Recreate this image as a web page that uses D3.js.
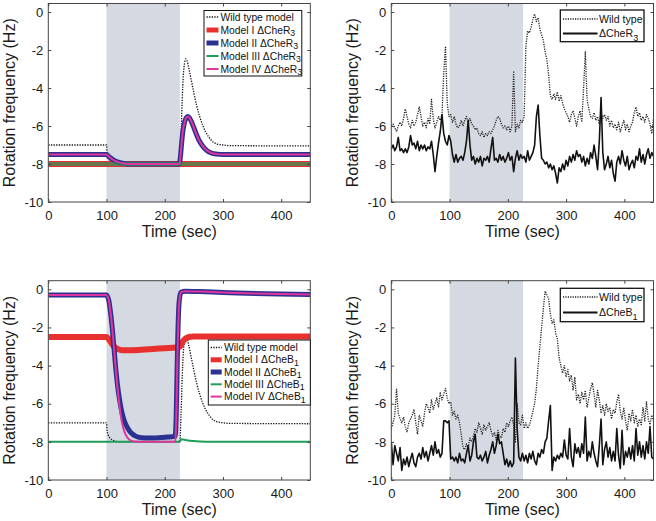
<!DOCTYPE html>
<html><head><meta charset="utf-8">
<script src="https://cdn.jsdelivr.net/npm/d3@7"></script>
<style>
body{margin:0;background:#fff}
svg{display:block}
text{font-family:"Liberation Sans",Arial,Helvetica,sans-serif}
</style>
</head><body>
<svg id="chart" width="656" height="521"></svg>
<script>
// ---------------- DATA ----------------
const timeTicks = [0, 100, 200, 300, 400];
const freqTicks = [-10, -8, -6, -4, -2, 0];
const timeDomain = [0, 450];
const freqDomain = [-10, 0.45];
const stimulusWindow = [100, 226];

// Model curves (left panels)
const wtModelT = [0,100,101,103,106,110,115,120,226,228,230,232,234,236,238,241,245,250,255,260,265,270,275,280,285,290,300,310,450];
const wtModelV = [-7.0,-7.0,-7.4,-7.65,-7.8,-7.9,-7.96,-8.0,-8.0,-6.5,-4.6,-3.3,-2.7,-2.47,-2.55,-2.9,-3.5,-4.25,-4.95,-5.5,-5.95,-6.3,-6.55,-6.75,-6.88,-6.95,-7.0,-7.03,-7.05];

const r3ModelIT = [0, 450];
const r3ModelIV = [-8.0, -8.0];
const r3ModelIIT = [0,100,103,106,110,115,120,125,130,140,225,227,229,231,234,237,240,243,247,252,258,265,272,280,290,300,450];
const r3ModelIIV = [-7.5,-7.5,-7.58,-7.66,-7.75,-7.84,-7.9,-7.94,-7.97,-8.0,-8.0,-7.6,-6.9,-6.3,-5.8,-5.56,-5.5,-5.6,-5.85,-6.25,-6.7,-7.05,-7.28,-7.42,-7.48,-7.5,-7.5];
const r3ModelIIIT = [0, 450];
const r3ModelIIIV = [-8.0, -8.0];
const r3ModelIVT = [0,100,103,106,110,115,120,125,130,140,225,227,229,231,234,237,240,243,247,252,258,265,272,280,290,300,450];
const r3ModelIVV = [-7.5,-7.5,-7.58,-7.66,-7.75,-7.84,-7.9,-7.94,-7.97,-8.0,-8.0,-7.6,-6.9,-6.3,-5.8,-5.56,-5.5,-5.6,-5.85,-6.25,-6.7,-7.05,-7.28,-7.42,-7.48,-7.5,-7.5];

const b1ModelIT = [0,100,104,108,112,116,120,125,130,140,160,180,200,220,226,229,232,236,240,245,250,300,450];
const b1ModelIV = [-2.5,-2.5,-2.62,-2.8,-2.97,-3.08,-3.15,-3.19,-3.2,-3.2,-3.17,-3.13,-3.09,-3.05,-3.0,-2.85,-2.7,-2.58,-2.52,-2.49,-2.48,-2.47,-2.47];
const b1ModelIIT = [0,100,102,104,106,108,110,112,114,116,118,120,123,126,130,135,140,145,150,160,175,190,205,215,218,219.5,221,222.5,224,226,228,235,260,300,450];
const b1ModelIIV = [-0.3,-0.3,-0.4,-0.6,-1.0,-1.5,-2.1,-2.8,-3.5,-4.2,-4.8,-5.3,-5.9,-6.4,-6.85,-7.2,-7.45,-7.6,-7.7,-7.78,-7.8,-7.79,-7.75,-7.72,-7.7,-6.8,-4.5,-2.4,-1.0,-0.35,-0.15,-0.1,-0.12,-0.17,-0.27];
const b1ModelIIIT = [0,100,226,228,232,240,250,260,280,450];
const b1ModelIIIV = [-8.0,-8.0,-8.0,-7.86,-7.88,-7.93,-7.96,-7.98,-8.0,-8.0];
const b1ModelIVT = [0,100,102,104,106,108,110,112,114,116,118,120,123,126,130,135,140,145,150,160,200,218,219.5,221,222.5,224,226,228,235,260,300,450];
const b1ModelIVV = [-0.3,-0.3,-0.4,-0.6,-1.0,-1.5,-2.1,-2.8,-3.5,-4.2,-4.9,-5.5,-6.3,-6.9,-7.4,-7.75,-7.9,-7.96,-7.98,-8.0,-8.0,-8.0,-7.1,-4.8,-2.6,-1.1,-0.4,-0.15,-0.1,-0.12,-0.17,-0.27];

// Experimental data (right panels), sampled every 3 s from 0 to 450 s
const dataTimes = d3.range(0, 451, 3);
const wildTypeR3 = [
 -6.0,-5.9,-6.1,-6.3,-6.0,-5.8,-6.0,-5.6,-5.1,-5.5,
 -5.9,-6.1,-5.7,-6.0,-5.8,-5.4,-5.0,-5.5,-6.0,-5.8,
 -6.1,-5.6,-5.9,-4.6,-5.6,-6.1,-5.8,-5.5,-5.7,-5.4,
 -3.2,-1.8,-4.8,-5.5,-5.4,-5.8,-5.5,-5.9,-6.1,-6.0,
 -5.7,-6.0,-5.7,-5.5,-5.8,-5.6,-5.9,-6.0,-6.2,-6.1,
 -6.4,-6.5,-6.3,-6.6,-6.4,-6.5,-6.3,-6.4,-6.2,-6.0,
 -5.7,-5.5,-5.6,-5.9,-6.1,-6.0,-6.2,-6.0,-6.3,-6.0,
 -3.1,-6.3,-5.9,-6.1,-5.7,-5.8,-5.5,-1.8,-1.0,-1.1,
 -0.8,-0.4,-0.1,-0.5,-0.3,-0.9,-1.2,-1.5,-2.1,-2.5,
 -3.3,-4.4,-4.6,-4.3,-4.6,-4.2,-4.7,-4.4,-4.8,-5.1,
 -5.3,-5.5,-5.8,-5.4,-5.2,-5.6,-6.0,-5.5,-5.2,-5.8,
 -4.0,-2.1,-4.6,-5.1,-5.5,-5.6,-5.3,-5.7,-5.5,-5.9,
 -5.3,-5.6,-5.4,-5.7,-5.5,-6.0,-5.7,-6.1,-5.9,-6.2,
 -5.8,-6.3,-6.0,-5.7,-6.2,-5.9,-6.3,-6.0,-5.8,-5.3,
 -5.0,-5.5,-5.3,-5.7,-5.5,-5.8,-5.4,-5.6,-5.9,-6.4,
 -5.6];
const deltaCheR3 = [
 -7.2,-7.0,-7.3,-7.1,-6.6,-7.3,-7.2,-7.4,-7.2,-7.4,
 -7.1,-6.5,-7.0,-6.9,-7.2,-6.8,-7.3,-7.0,-7.2,-7.0,
 -7.3,-7.1,-7.2,-6.8,-7.5,-8.4,-7.6,-6.9,-6.3,-5.4,
 -6.4,-6.8,-7.0,-6.5,-6.8,-7.5,-7.9,-7.5,-7.9,-7.7,
 -7.6,-7.8,-7.4,-6.8,-5.7,-7.0,-7.8,-7.6,-8.0,-7.7,
 -7.9,-7.6,-8.1,-7.7,-7.8,-7.6,-7.9,-7.2,-6.6,-7.8,
 -7.7,-7.9,-7.5,-7.8,-7.6,-7.9,-7.7,-7.4,-7.8,-7.6,
 -8.4,-7.7,-7.3,-7.8,-7.5,-7.7,-7.6,-7.9,-7.3,-7.8,
 -7.6,-7.4,-7.0,-5.5,-4.9,-6.5,-7.7,-7.8,-8.0,-7.9,
 -8.2,-8.0,-8.3,-8.1,-8.5,-9.0,-8.2,-8.4,-8.0,-8.3,
 -7.8,-8.1,-7.6,-7.9,-7.5,-7.8,-7.3,-7.6,-7.5,-7.9,
 -7.6,-8.1,-7.7,-8.0,-7.4,-7.7,-7.0,-7.6,-8.3,-6.8,
 -4.5,-7.4,-8.3,-8.0,-7.6,-8.2,-7.8,-8.5,-8.9,-7.9,
 -7.6,-8.0,-7.3,-7.8,-8.1,-7.6,-8.3,-8.0,-7.8,-8.2,
 -7.6,-7.8,-7.2,-7.9,-7.5,-8.0,-7.5,-7.2,-7.7,-7.4,
 -7.6];
const wildTypeB1 = [
 -7.3,-7.0,-6.6,-5.2,-6.5,-6.8,-7.0,-6.7,-7.2,-7.5,
 -7.0,-6.8,-6.6,-6.3,-7.0,-7.6,-6.6,-6.9,-7.2,-6.5,
 -6.0,-6.2,-6.5,-5.8,-6.3,-6.0,-5.7,-6.2,-5.4,-5.8,
 -5.5,-5.2,-5.7,-6.0,-5.9,-6.6,-6.4,-6.8,-6.6,-7.0,
 -7.6,-8.3,-8.4,-8.1,-8.3,-7.8,-8.0,-7.7,-7.3,-7.5,
 -7.0,-7.3,-7.6,-7.1,-7.4,-7.2,-7.0,-7.4,-7.7,-7.5,
 -7.9,-7.4,-7.7,-7.8,-7.3,-7.5,-7.0,-7.2,-6.9,-6.7,
 -7.1,-8.0,-6.0,-7.0,-7.1,-6.6,-7.3,-7.0,-7.3,-7.1,
 -6.8,-6.4,-6.0,-5.2,-4.0,-3.0,-2.0,-1.0,-0.1,-0.3,
 -0.5,-1.3,-1.8,-1.6,-2.3,-2.6,-3.6,-4.0,-4.4,-4.0,
 -4.6,-4.2,-4.8,-4.5,-5.3,-4.6,-5.8,-5.5,-6.0,-5.4,
 -5.8,-5.3,-6.2,-5.7,-5.2,-4.9,-5.5,-6.2,-5.3,-5.8,
 -6.5,-6.1,-6.6,-6.0,-6.4,-6.2,-6.8,-6.3,-6.5,-5.9,
 -5.5,-6.4,-6.8,-6.2,-6.9,-7.4,-6.5,-6.9,-6.3,-7.0,
 -6.6,-7.2,-6.8,-7.1,-6.2,-6.9,-5.9,-6.8,-7.1,-6.6,
 -6.9];
const deltaCheB1 = [
 -8.0,-9.2,-8.2,-8.6,-9.0,-8.3,-9.5,-8.9,-9.2,-8.8,
 -9.3,-8.9,-8.6,-9.1,-9.3,-8.8,-8.6,-8.9,-8.3,-8.8,
 -8.5,-9.0,-8.6,-8.2,-8.7,-8.0,-8.6,-8.4,-8.8,-8.6,
 -6.9,-6.9,-7.0,-6.9,-8.9,-8.8,-9.0,-8.8,-9.1,-8.6,
 -9.0,-8.9,-9.1,-8.6,-8.2,-9.0,-8.7,-8.0,-7.6,-8.8,
 -8.9,-8.7,-9.0,-8.8,-8.5,-9.1,-8.7,-8.4,-8.0,-8.6,
 -8.2,-7.6,-8.1,-8.0,-8.6,-9.2,-8.9,-9.3,-9.0,-9.3,
 -9.1,-3.6,-7.3,-8.8,-9.0,-8.6,-9.0,-8.7,-9.1,-8.6,
 -8.9,-8.5,-9.0,-9.2,-8.6,-8.8,-8.4,-8.6,-8.0,-7.8,
 -6.9,-6.1,-9.5,-8.8,-9.0,-8.7,-8.9,-8.6,-8.8,-7.9,
 -8.7,-8.9,-7.3,-8.8,-9.3,-8.1,-8.6,-8.3,-8.8,-8.1,
 -8.6,-6.7,-9.0,-8.5,-8.8,-8.0,-8.6,-9.0,-9.3,-8.2,
 -6.8,-9.2,-8.4,-8.0,-8.8,-8.3,-9.0,-8.5,-9.0,-7.3,
 -8.7,-9.4,-7.4,-9.2,-8.5,-8.8,-8.3,-8.9,-8.2,-9.0,
 -7.3,-8.7,-8.0,-8.8,-8.2,-8.9,-8.0,-8.6,-7.2,-8.8,
 -8.9];

// ---------------- STYLES ----------------
const C = {red:"#e8302f", blue:"#2b3190", green:"#1f9e5a", magenta:"#e0359e", shade:"#d5d9e1", axis:"#444"};
const FONT = '"Liberation Sans",Arial,Helvetica,sans-serif';

const svg = d3.select("#chart");

const panels = [
  {key:"tl", left:48.3, right:310.3, top:3.5, bottom:202, ylabX:14.5},
  {key:"tr", left:391.3, right:653.5, top:3.5, bottom:202, ylabX:357.5},
  {key:"bl", left:48.3, right:310.3, top:280.7, bottom:480, ylabX:14.5},
  {key:"br", left:391.3, right:653.5, top:280.7, bottom:480, ylabX:357.5}
];

function zip(t, v){ return t.map((d,i)=>({t:d, v:v[i]})); }

function drawPanel(p, series, legend){
  const x = d3.scaleLinear().domain(timeDomain).range([p.left, p.right]);
  const y = d3.scaleLinear().domain(freqDomain).range([p.bottom, p.top]);
  const g = svg.append("g");
  const clipId = "clip-" + p.key;
  g.append("clipPath").attr("id", clipId).append("rect")
    .attr("x", p.left).attr("y", p.top).attr("width", p.right-p.left).attr("height", p.bottom-p.top);

  g.append("rect").attr("x", x(stimulusWindow[0])).attr("y", p.top)
    .attr("width", x(stimulusWindow[1]) - x(stimulusWindow[0])).attr("height", p.bottom - p.top)
    .attr("fill", C.shade);

  const lines = g.append("g").attr("clip-path", `url(#${clipId})`);
  series.forEach(s=>{
    const line = d3.line().x(d=>x(d.t)).y(d=>y(d.v)).curve(s.curve || d3.curveLinear);
    lines.append("path").datum(zip(s.t, s.v)).attr("d", line)
      .attr("fill","none").attr("stroke", s.color).attr("stroke-width", s.width)
      .attr("stroke-opacity", s.opacity || 1)
      .attr("stroke-dasharray", s.dash || null)
      .attr("stroke-linejoin","round");
  });

  // axes
  const styleAxis = sel => {
    sel.select(".domain").remove();
    sel.selectAll(".tick line").attr("stroke", C.axis).attr("stroke-width", 1);
    sel.selectAll(".tick text").attr("fill", "#1a1a1a").attr("font-size", 13).attr("font-family", FONT);
  };
  g.append("g").attr("transform", `translate(0,${p.bottom})`)
    .call(d3.axisBottom(x).tickValues(timeTicks).tickSize(-3).tickPadding(9).tickFormat(d=>String(d))).call(styleAxis);
  g.append("g").attr("transform", `translate(0,${p.top})`)
    .call(d3.axisTop(x).tickValues(timeTicks).tickSize(-3).tickFormat("")).call(styleAxis);
  g.append("g").attr("transform", `translate(${p.left},0)`)
    .call(d3.axisLeft(y).tickValues(freqTicks).tickSize(-3).tickPadding(5).tickFormat(d=>String(d))).call(styleAxis);
  g.append("g").attr("transform", `translate(${p.right},0)`)
    .call(d3.axisRight(y).tickValues(freqTicks).tickSize(-3).tickFormat("")).call(styleAxis);

  g.append("rect").attr("x", p.left).attr("y", p.top).attr("width", p.right-p.left).attr("height", p.bottom-p.top)
    .attr("fill","none").attr("stroke", C.axis).attr("stroke-width", 1);

  g.append("text").attr("x", (p.left+p.right)/2).attr("y", p.bottom + 35)
    .attr("text-anchor","middle").attr("font-size", 16).attr("fill","#1a1a1a").text("Time (sec)");
  g.append("text").attr("transform", `translate(${p.ylabX},${(p.top+p.bottom)/2}) rotate(-90)`)
    .attr("text-anchor","middle").attr("font-size", 16).attr("fill","#1a1a1a").text("Rotation frequency (Hz)");

  // legend
  const L = legend;
  const lg = g.append("g");
  lg.append("rect").attr("x", L.x).attr("y", L.y).attr("width", L.w).attr("height", L.h)
    .attr("fill","#fff").attr("stroke","#111").attr("stroke-width", L.stroke || 1);
  L.items.forEach((it, i)=>{
    const cy = L.rows[i];
    lg.append("line").attr("x1", L.lx1).attr("x2", L.lx2).attr("y1", cy).attr("y2", cy)
      .attr("stroke", it.color).attr("stroke-width", it.width).attr("stroke-dasharray", it.dash || null);
    const t = lg.append("text").attr("x", L.tx).attr("y", cy).attr("dy", "0.35em")
      .attr("font-size", L.fs).attr("fill","#111");
    t.append("tspan").text(it.label);
    if (it.sub){
      t.append("tspan").attr("dy", L.subDy).attr("font-size", L.fs*0.85).text(it.sub);
    }
  });
}

// Top-left
drawPanel(panels[0], [
  {t:wtModelT, v:wtModelV, color:"#111", width:1.3, dash:"1.3,1.3", curve:d3.curveMonotoneX},
  {t:r3ModelIT, v:r3ModelIV, color:C.red, width:6},
  {t:r3ModelIIT, v:r3ModelIIV, color:C.blue, width:5, curve:d3.curveMonotoneX},
  {t:r3ModelIIIT, v:r3ModelIIIV, color:C.green, width:4, opacity:0.65},
  {t:r3ModelIVT, v:r3ModelIVV, color:C.magenta, width:2, curve:d3.curveMonotoneX}
], {x:204, y:10.5, w:97.8, h:65.5, rows:[17,30,43,56,69], lx1:206.5, lx2:218.5, tx:220.5, fs:10.3, subDy:2.5,
   items:[
    {label:"Wild type model", color:"#111", width:1.3, dash:"1.3,1.3"},
    {label:"Model I \u0394CheR", sub:"3", color:C.red, width:5},
    {label:"Model II \u0394CheR", sub:"3", color:C.blue, width:5},
    {label:"Model III \u0394CheR", sub:"3", color:C.green, width:2},
    {label:"Model IV \u0394CheR", sub:"3", color:C.magenta, width:2}
   ]});

// Top-right
drawPanel(panels[1], [
  {t:dataTimes, v:wildTypeR3, color:"#222", width:1.3, dash:"1.2,1.2"},
  {t:dataTimes, v:deltaCheR3, color:"#111", width:1.6}
], {x:560.3, y:10, w:83.7, h:31.7, rows:[19,33.5], lx1:563, lx2:597.5, tx:599, fs:10.6, subDy:4, stroke:1.3,
   items:[
    {label:"Wild type", color:"#222", width:1.5, dash:"1.2,1.2"},
    {label:"\u0394CheR", sub:"3", color:"#111", width:2}
   ]});

// Bottom-left
drawPanel(panels[2], [
  {t:wtModelT, v:wtModelV, color:"#111", width:1.3, dash:"1.3,1.3", curve:d3.curveMonotoneX},
  {t:b1ModelIT, v:b1ModelIV, color:C.red, width:6, curve:d3.curveMonotoneX},
  {t:b1ModelIIT, v:b1ModelIIV, color:C.blue, width:5, curve:d3.curveMonotoneX},
  {t:b1ModelIIIT, v:b1ModelIIIV, color:C.green, width:2, curve:d3.curveMonotoneX},
  {t:b1ModelIVT, v:b1ModelIVV, color:C.magenta, width:2, curve:d3.curveMonotoneX}
], {x:208.3, y:340, w:102, h:65, rows:[347.5,359.8,372,384.3,396.6], lx1:210.7, lx2:221.7, tx:224, fs:10.4, subDy:2.5,
   items:[
    {label:"Wild type model", color:"#111", width:1.3, dash:"1.3,1.3"},
    {label:"Model I \u0394CheB", sub:"1", color:C.red, width:5},
    {label:"Model II \u0394CheB", sub:"1", color:C.blue, width:5},
    {label:"Model III \u0394CheB", sub:"1", color:C.green, width:2},
    {label:"Model IV \u0394CheB", sub:"1", color:C.magenta, width:2}
   ]});

// Bottom-right
drawPanel(panels[3], [
  {t:dataTimes, v:wildTypeB1, color:"#222", width:1.3, dash:"1.2,1.2"},
  {t:dataTimes, v:deltaCheB1, color:"#111", width:1.6}
], {x:560.3, y:288.3, w:83.7, h:33.4, rows:[297,312.5], lx1:563, lx2:597.5, tx:599, fs:10.6, subDy:4, stroke:1.3,
   items:[
    {label:"Wild type", color:"#222", width:1.5, dash:"1.2,1.2"},
    {label:"\u0394CheB", sub:"1", color:"#111", width:2}
   ]});
</script>
</body></html>
